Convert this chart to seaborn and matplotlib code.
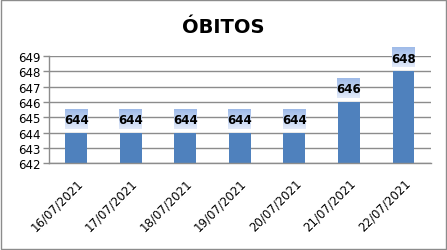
import matplotlib
matplotlib.use("Agg")
import matplotlib.pyplot as plt
import seaborn as sns
import numpy as np
import pandas as pd
from matplotlib.patches import Rectangle

dates = ["16/07/2021", "17/07/2021", "18/07/2021", "19/07/2021",
         "20/07/2021", "21/07/2021", "22/07/2021"]
obitos = [644, 644, 644, 644, 644, 646, 648]
y_ticks = [642, 643, 644, 645, 646, 647, 648, 649]
title = "ÓBITOS"

df = pd.DataFrame({"data": dates, "obitos": obitos})

sns.set_theme(style="white")
plt.rcParams["font.family"] = ["DejaVu Sans"]

fig = plt.figure(figsize=(4.47, 2.51), dpi=100)
fig.patch.set_facecolor("white")
ax = fig.add_axes([0.1096, 0.345, 0.854, 0.428])

base = y_ticks[0]
sns.barplot(data=df, x="data", y="obitos", ax=ax, color="#4f81bd",
            saturation=1, width=0.4)
for p in ax.patches:
    p.set_y(base)
    p.set_height(p.get_height() - base)
    p.set_edgecolor("none")

ax.set_ylim(y_ticks[0], y_ticks[-1])
ax.set_xlim(-0.5, len(dates) - 0.5)
ax.set_yticks(y_ticks)
ax.set_yticklabels([str(v) for v in y_ticks], fontsize=8.5, color="black")
ax.yaxis.grid(True, color="#8c8c8c", linewidth=1)
ax.set_axisbelow(True)

ax.set_xticks(np.arange(len(dates)))
ax.set_xticklabels(dates, rotation=45, ha="right", rotation_mode="anchor",
                   fontsize=8.5, color="black")
ax.set_xticks(np.arange(-0.5, len(dates)), minor=True)
ax.tick_params(axis="x", which="major", length=0, pad=9)
ax.tick_params(axis="x", which="minor", length=4, color="#8c8c8c", width=1)
ax.tick_params(axis="y", length=4, color="#8c8c8c", width=1, pad=2, left=True)
ax.set_xlabel("")
ax.set_ylabel("")
for s in ["top", "right"]:
    ax.spines[s].set_visible(False)
for s in ["left", "bottom"]:
    ax.spines[s].set_color("#8c8c8c")
    ax.spines[s].set_linewidth(1)

# gradient label boxes
grad = np.linspace(0, 1, 50).reshape(-1, 1)
top_c = np.array([0.62, 0.73, 0.91])
bot_c = np.array([0.89, 0.92, 0.98])
img = top_c[None, None, :] * (1 - grad[:, :, None]) + bot_c[None, None, :] * grad[:, :, None]
bw, bh, gap = 0.42, 1.3, 0.25
for i, v in enumerate(obitos):
    x0, x1 = i - bw / 2, i + bw / 2
    y0, y1 = v + gap, v + gap + bh
    ax.imshow(img, extent=[x0, x1, y0, y1], aspect="auto", zorder=4,
              origin="upper", clip_on=False, interpolation="bilinear")
    ax.text(i, (y0 + y1) / 2 - 0.05, str(v), ha="center", va="center",
            fontsize=8.5, fontweight="bold", color="black", zorder=5,
            clip_on=False)
ax.set_xlim(-0.5, len(dates) - 0.5)
ax.set_ylim(y_ticks[0], y_ticks[-1])

fig.text(0.5, 0.89, title, ha="center", va="center", fontsize=14,
         fontweight="bold", color="black")

fig.add_artist(Rectangle((0.003, 0.004), 0.994, 0.992, transform=fig.transFigure,
                         fill=False, edgecolor="#8c8c8c", linewidth=1))

fig.savefig("out.png", dpi=100)
